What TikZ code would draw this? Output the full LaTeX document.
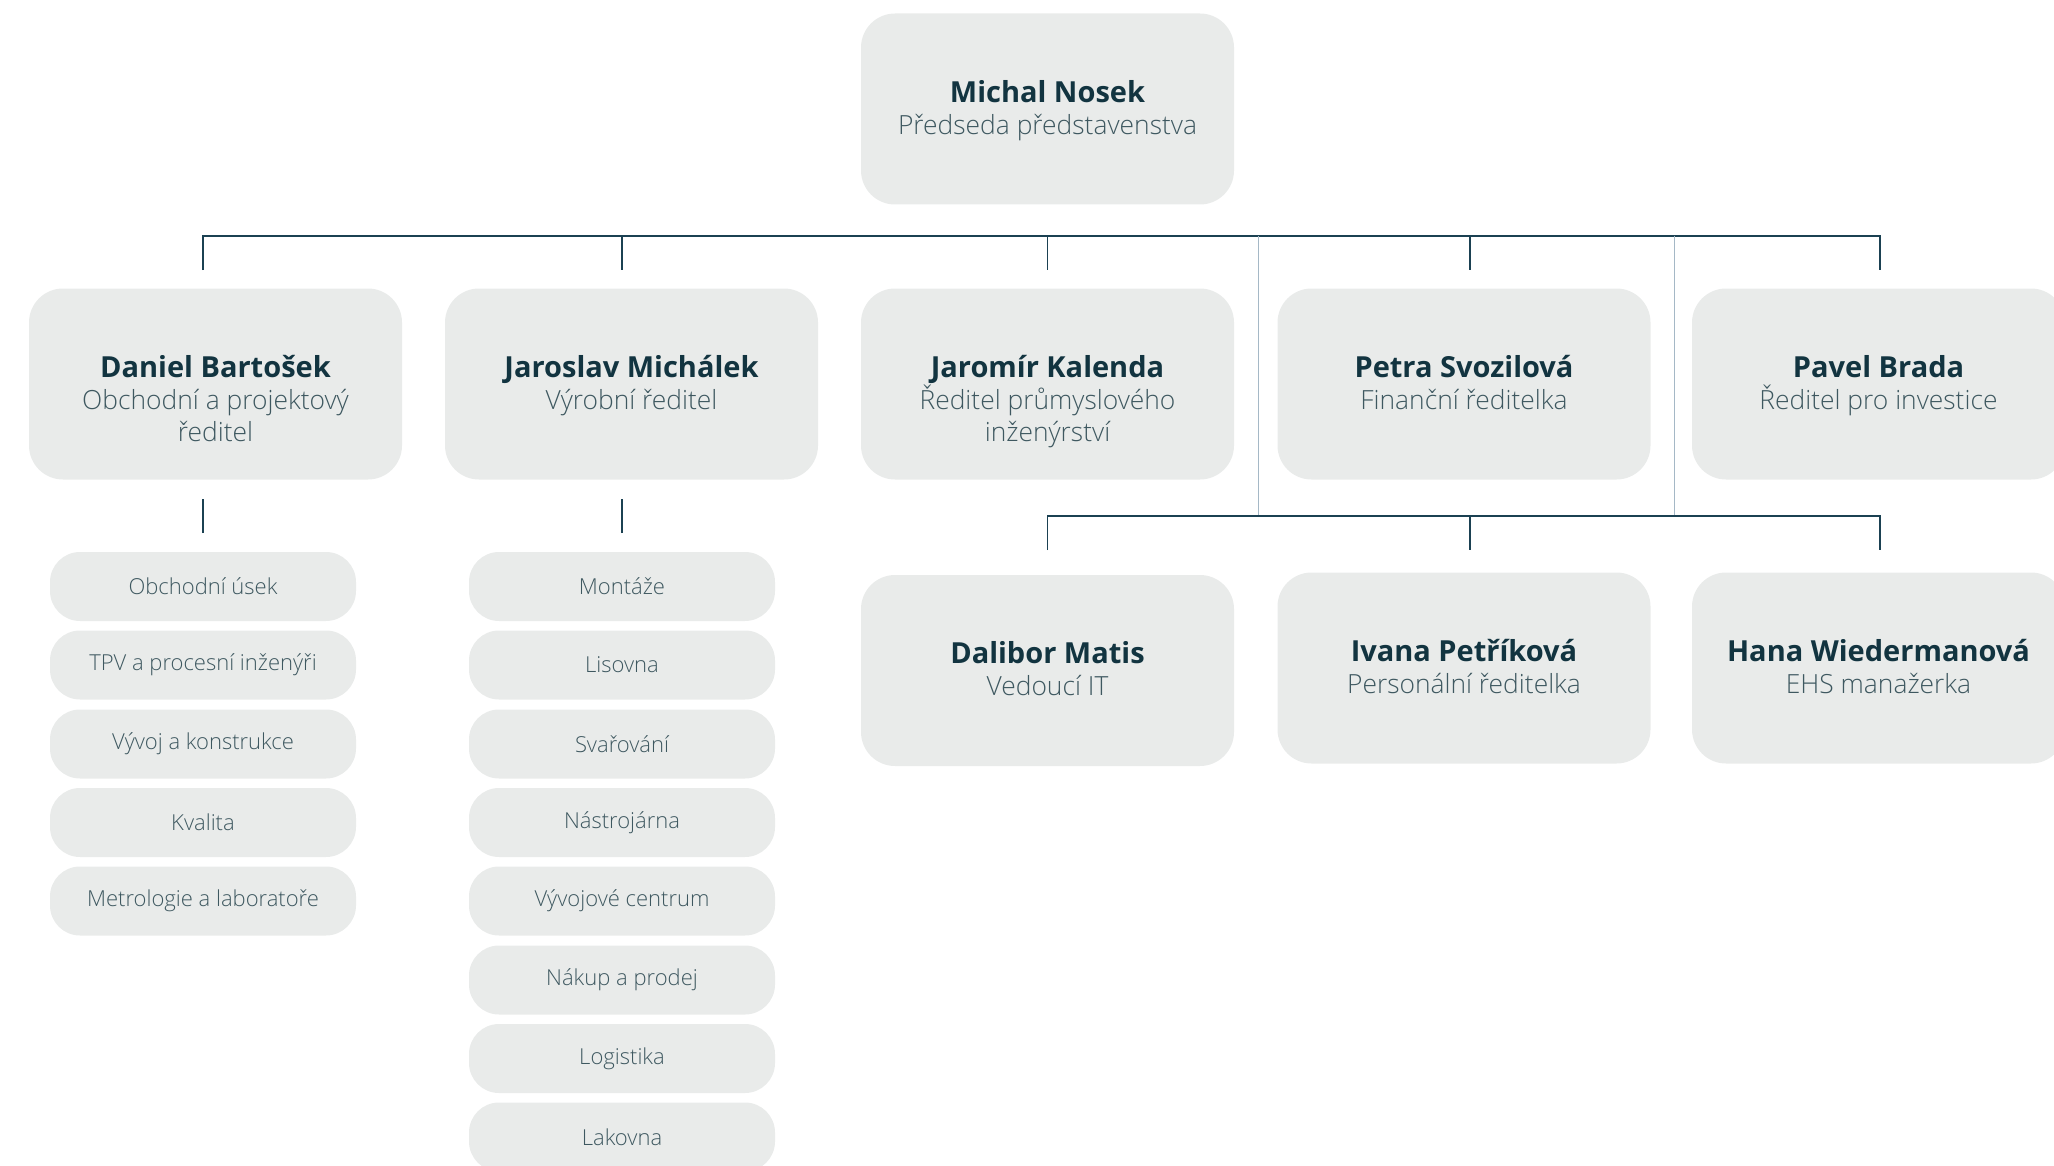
\documentclass[tikz,border=0pt]{standalone}
\usepackage{fontspec}
\setmainfont{Open Sans}
\newfontfamily\lightfont{Open Sans Light}
\usepackage{tikz}
\usetikzlibrary{positioning}
\newlength{\personboxwidth}
\newlength{\personboxheight}
\newlength{\personboxradius}
\newlength{\unitboxwidth}
\newlength{\unitboxheight}
\newlength{\unitboxradius}
\newlength{\nametextdrop}
\setlength{\personboxwidth}{186.5pt}
\setlength{\personboxheight}{95.5pt}
\setlength{\personboxradius}{17pt}
\setlength{\unitboxwidth}{153pt}
\setlength{\unitboxheight}{34.5pt}
\setlength{\unitboxradius}{15pt}
\setlength{\nametextdrop}{33.3pt}
\definecolor{boxfillcolor}{RGB}{233,235,234}
\definecolor{namecolor}{RGB}{18,52,64}
\definecolor{titlecolor}{RGB}{62,88,96}
\definecolor{mainlinecolor}{RGB}{27,65,82}
\definecolor{sidelinecolor}{RGB}{165,184,198}
\newcommand{\titlestyle}{\lightfont\mdseries\fontsize{13.2}{16}\selectfont\color{titlecolor}}
\newcommand{\personlabel}[2]{\bfseries\color{namecolor}#1\\\titlestyle #2}
\tikzstyle{personbox} = [fill=boxfillcolor, rounded corners=\personboxradius, minimum width=\personboxwidth, minimum height=\personboxheight, inner sep=0]
\tikzstyle{persontext} = [align=center, inner sep=0, font=\fontsize{14.5}{16}\selectfont]
\tikzstyle{unitbox} = [fill=boxfillcolor, rounded corners=\unitboxradius, minimum width=\unitboxwidth, minimum height=\unitboxheight, inner sep=0, text=titlecolor, font=\lightfont\fontsize{11}{13}\selectfont]
\tikzstyle{mainline} = [draw=mainlinecolor, line width=0.7pt]
\tikzstyle{sideline} = [draw=sidelinecolor, line width=0.5pt]

\begin{document}
\begin{tikzpicture}[x=0.5pt, y=-0.5pt]
		\useasboundingbox (0,0) rectangle (2054,1166);
		
		% people
		\node[personbox] (michal) at (1047.5,109) {};
		\node[personbox] (daniel) at (215.5,384) {};
		\node[personbox] (jaroslav) at (631.5,384) {};
		\node[personbox] (jaromir) at (1047.5,384) {};
		\node[personbox] (petra) at (1464,384) {};
		\node[personbox] (pavel) at (1878.5,384) {};
		\node[personbox] (dalibor) at (1047.5,670.5) {};
		\node[personbox] (ivana) at (1464,668) {};
		\node[personbox] (hana) at (1878.5,668) {};
		
		\node[persontext, below=\nametextdrop of michal.north] (michaltext) {\personlabel{Michal Nosek}{Předseda představenstva}};
		\node[persontext, below=\nametextdrop of daniel.north] (danieltext) {\personlabel{Daniel Bartošek}{Obchodní a projektový\\\titlestyle ředitel}};
		\node[persontext, below=\nametextdrop of jaroslav.north] (jaroslavtext) {\personlabel{Jaroslav Michálek}{Výrobní ředitel}};
		\node[persontext, below=\nametextdrop of jaromir.north] (jaromirtext) {\personlabel{Jaromír Kalenda}{Ředitel průmyslového\\\titlestyle inženýrství}};
		\node[persontext, below=\nametextdrop of petra.north] (petratext) {\personlabel{Petra Svozilová}{Finanční ředitelka}};
		\node[persontext, below=\nametextdrop of pavel.north] (paveltext) {\personlabel{Pavel Brada}{Ředitel pro investice}};
		\node[persontext, below=\nametextdrop of dalibor.north] (dalibortext) {\personlabel{Dalibor Matis}{Vedoucí IT}};
		\node[persontext, below=\nametextdrop of ivana.north] (ivanatext) {\personlabel{Ivana Petříková}{Personální ředitelka}};
		\node[persontext, below=\nametextdrop of hana.north] (hanatext) {\personlabel{Hana Wiedermanová}{EHS manažerka}};
		
		% units under Daniel
		\node[unitbox] (obchod) at (203,586.5) {Obchodní úsek};
		\node[unitbox] (tpv) at (203,665) {TPV a procesní inženýři};
		\node[unitbox] (vyvoj) at (203,744) {Vývoj a konstrukce};
		\node[unitbox] (kvalita) at (203,822.5) {Kvalita};
		\node[unitbox] (metrologie) at (203,901) {Metrologie a laboratoře};
		
		% units under Jaroslav
		\node[unitbox] (montaze) at (622,586.5) {Montáže};
		\node[unitbox] (lisovna) at (622,665) {Lisovna};
		\node[unitbox] (svarovani) at (622,744) {Svařování};
		\node[unitbox] (nastrojarna) at (622,822.5) {Nástrojárna};
		\node[unitbox] (centrum) at (622,901) {Vývojové centrum};
		\node[unitbox] (nakup) at (622,980) {Nákup a prodej};
		\node[unitbox] (logistika) at (622,1058.5) {Logistika};
		\node[unitbox] (lakovna) at (622,1137) {Lakovna};
		
		% top bar
		\coordinate (topbarwest) at (203,236);
		\coordinate (topbareast) at (1880,236);
		\coordinate (danielstub) at (203,270);
		\coordinate (jaroslavstub) at (622,270);
		\coordinate (jaromirstub) at (1047.5,270);
		\coordinate (petrastub) at (1470,270);
		\coordinate (pavelstub) at (1880,270);
		\draw[mainline] (danielstub) -- (topbarwest) -- (topbareast) -- (pavelstub);
		\draw[mainline] (jaroslavstub |- topbarwest) -- (jaroslavstub);
		\draw[mainline] (jaromirstub |- topbarwest) -- (jaromirstub);
		\draw[mainline] (petrastub |- topbarwest) -- (petrastub);
		
		% side lines down to the lower bar
		\coordinate (lowbarwest) at (1047.5,516);
		\coordinate (lowbareast) at (1880,516);
		\coordinate (leftside) at (1258,516);
		\coordinate (rightside) at (1674,516);
		\draw[sideline] (leftside |- topbarwest) -- (leftside);
		\draw[sideline] (rightside |- topbarwest) -- (rightside);
		
		% lower bar
		\coordinate (daliborstub) at (1047.5,550);
		\coordinate (ivanastub) at (1470,550);
		\coordinate (hanastub) at (1880,550);
		\draw[mainline] (daliborstub) -- (lowbarwest) -- (lowbareast) -- (hanastub);
		\draw[mainline] (ivanastub |- lowbarwest) -- (ivanastub);
		
		% stubs above the units
		\coordinate (danielunits) at (203,533);
		\coordinate (jaroslavunits) at (622,533);
		\draw[mainline] (danielunits) -- ++(0,-34);
		\draw[mainline] (jaroslavunits) -- ++(0,-34);
		
	\end{tikzpicture}
\end{document}
